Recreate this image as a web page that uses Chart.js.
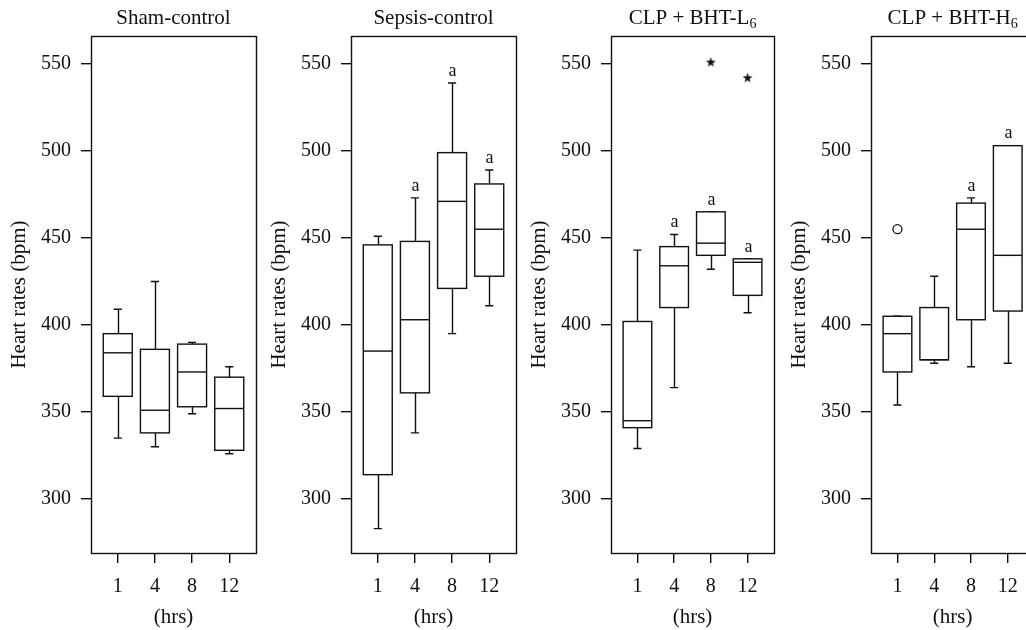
<!DOCTYPE html>
<html>
<head>
<meta charset="utf-8">
<script src="https://cdn.jsdelivr.net/npm/chart.js@4/dist/chart.umd.min.js"></script>
<style>
  html, body { margin: 0; padding: 0; background: #fff; overflow: hidden; width: 1026px; height: 630px; }
  .panel { position: absolute; top: 0; width: 260px; height: 630px; }
</style>
</head>
<body>
<div class="panel" style="left:0px"><canvas id="chart0" width="260" height="630"></canvas></div>
<div class="panel" style="left:260px"><canvas id="chart1" width="260" height="630"></canvas></div>
<div class="panel" style="left:520px"><canvas id="chart2" width="260" height="630"></canvas></div>
<div class="panel" style="left:780px"><canvas id="chart3" width="260" height="630"></canvas></div>
<script>
// heart rate box plots, 4 groups x 4 time points
var hours = ['1', '4', '8', '12'];
var titles = ['Sham-control', 'Sepsis-control', 'CLP + BHT-L', 'CLP + BHT-H'];
var titleSubs = ['', '', '6', '6'];
var yTicks = [300, 350, 400, 450, 500, 550];

// each box: [lower whisker, Q1, median, Q3, upper whisker]
var shamBoxes   = [[335, 359, 384, 395, 409], [330, 338, 351, 386, 425], [349, 353, 373, 389, 390], [326, 328, 352, 370, 376]];
var sepsisBoxes = [[283, 314, 385, 446, 451], [338, 361, 403, 448, 473], [395, 421, 471, 499, 539], [411, 428, 455, 481, 489]];
var lowBoxes    = [[329, 341, 345, 402, 443], [364, 410, 434, 445, 452], [432, 440, 447, 465, 465], [407, 417, 436, 438, 438]];
var highBoxes   = [[354, 373, 395, 405, 405], [378, 380, 380, 410, 428], [376, 403, 455, 470, 473], [378, 408, 440, 503, 503]];

// extreme values (star) and outliers (circle): [time index 1..4, value]
var shamStars = [], sepsisStars = [], lowStars = [[3, 551], [4, 542]], highStars = [];
var shamCircles = [], sepsisCircles = [], lowCircles = [], highCircles = [[1, 455]];

// "a" = significant vs sham
var shamSig   = [0, 0, 0, 0];
var sepsisSig = [0, 1, 1, 1];
var lowSig    = [0, 1, 1, 1];
var highSig   = [0, 0, 1, 1];

var allBoxes = [shamBoxes, sepsisBoxes, lowBoxes, highBoxes];
var allStars = [shamStars, sepsisStars, lowStars, highStars];
var allCircles = [shamCircles, sepsisCircles, lowCircles, highCircles];
var allSig = [shamSig, sepsisSig, lowSig, highSig];

var INK = '#111';
var FONT = "'Liberation Serif', 'DejaVu Serif', serif";
Chart.defaults.font.family = FONT;
Chart.defaults.font.size = 20;
Chart.defaults.color = INK;

// small filled star for extreme points
var starImg = document.createElement('canvas');
starImg.width = 11; starImg.height = 11;
(function () {
    var c = starImg.getContext('2d');
    c.fillStyle = INK;
    c.beginPath();
    for (var k = 0; k < 10; k++) {
        var r = (k % 2 == 0) ? 5.2 : 2.1;
        var a = -Math.PI / 2 + k * Math.PI / 5;
        var px = 5.5 + r * Math.cos(a), py = 5.8 + r * Math.sin(a);
        if (k == 0) c.moveTo(px, py); else c.lineTo(px, py);
    }
    c.closePath();
    c.fill();
})();

var boxPlugin = {
    id: 'boxes',
    beforeDatasetsDraw: function (chart) {
        var ctx = chart.ctx, xs = chart.scales.x, ys = chart.scales.y;
        var boxes = chart.options.plugins.boxes.data;
        var sig = chart.options.plugins.boxes.sig;
        ctx.save();
        ctx.strokeStyle = INK;
        ctx.lineWidth = 1.4;
        for (var i = 0; i < boxes.length; i++) {
            var b = boxes[i];
            var xc = Math.round(xs.getPixelForValue(i + 1)) + 0.5;
            var x0 = xs.getPixelForValue(i + 1 - 0.39), x1 = xs.getPixelForValue(i + 1 + 0.39);
            var c0 = xs.getPixelForValue(i + 1 - 0.11), c1 = xs.getPixelForValue(i + 1 + 0.11);
            var yLo = ys.getPixelForValue(b[0]), yQ1 = ys.getPixelForValue(b[1]);
            var yMed = ys.getPixelForValue(b[2]), yQ3 = ys.getPixelForValue(b[3]);
            var yHi = ys.getPixelForValue(b[4]);
            ctx.beginPath();
            ctx.moveTo(xc, yQ1); ctx.lineTo(xc, yLo);
            ctx.moveTo(c0, yLo); ctx.lineTo(c1, yLo);
            ctx.moveTo(xc, yQ3); ctx.lineTo(xc, yHi);
            ctx.moveTo(c0, yHi); ctx.lineTo(c1, yHi);
            ctx.stroke();
            ctx.fillStyle = '#fff';
            ctx.fillRect(x0, yQ3, x1 - x0, yQ1 - yQ3);
            ctx.strokeRect(x0, yQ3, x1 - x0, yQ1 - yQ3);
            ctx.beginPath();
            ctx.moveTo(x0, yMed); ctx.lineTo(x1, yMed);
            ctx.stroke();
            if (sig[i]) {
                ctx.fillStyle = INK;
                ctx.font = "18px " + FONT;
                ctx.textAlign = 'center';
                ctx.textBaseline = 'middle';
                ctx.fillText('a', xc, yHi - 12);
            }
        }
        ctx.restore();
    },
    afterDraw: function (chart) {
        var a = chart.chartArea, ctx = chart.ctx;
        ctx.save();
        ctx.strokeStyle = INK;
        ctx.lineWidth = 1.4;
        ctx.strokeRect(Math.round(a.left) + 0.5, Math.round(a.top) + 0.5, Math.round(a.right - a.left), Math.round(a.bottom - a.top));
        // panel title centred over the plot box, with optional subscript
        var t = chart.options.plugins.boxes.title, sub = chart.options.plugins.boxes.sub;
        ctx.fillStyle = INK;
        ctx.textBaseline = 'alphabetic';
        ctx.textAlign = 'left';
        ctx.font = "21px " + FONT;
        var w = ctx.measureText(t).width;
        ctx.font = "14px " + FONT;
        var ws = sub ? ctx.measureText(sub).width : 0;
        var x = (a.left + a.right) / 2 - (w + ws) / 2;
        ctx.font = "21px " + FONT;
        ctx.fillText(t, x, 24);
        if (sub) {
            ctx.font = "14px " + FONT;
            ctx.fillText(sub, x + w, 28);
        }
        ctx.restore();
    }
};

var charts = [];
for (var p = 0; p < 4; p++) {
    var stars = allStars[p].map(function (s) { return { x: s[0], y: s[1] }; });
    var circles = allCircles[p].map(function (s) { return { x: s[0], y: s[1] }; });
    charts.push(new Chart(document.getElementById('chart' + p), {
        type: 'scatter',
        data: {
            datasets: [{
                label: 'extreme',
                data: stars,
                pointStyle: starImg,
                pointRadius: 5
            }, {
                label: 'outlier',
                data: circles,
                pointStyle: 'circle',
                pointRadius: 4.5,
                borderColor: INK,
                backgroundColor: '#fff',
                borderWidth: 1.3
            }]
        },
        options: {
            responsive: false,
            animation: false,
            layout: { padding: { top: 36, right: 4, bottom: 0, left: 0 } },
            plugins: {
                legend: { display: false },
                tooltip: { enabled: false },
                title: { display: false },
                boxes: { data: allBoxes[p], sig: allSig[p], title: titles[p], sub: titleSubs[p] }
            },
            scales: {
                x: {
                    type: 'linear',
                    min: 0.28,
                    max: 4.72,
                    afterBuildTicks: function (s) { s.ticks = hours.map(function (h, i) { return { value: i + 1 }; }); },
                    afterFit: function (s) { s.height = 77; },
                    ticks: {
                        padding: 12,
                        maxRotation: 0,
                        callback: function (v) { return hours[v - 1]; }
                    },
                    grid: { display: true, drawOnChartArea: false, drawTicks: true, tickLength: 10, color: INK, lineWidth: 1.4 },
                    border: { display: false },
                    title: { display: true, text: '(hrs)', font: { size: 21 }, padding: { top: 0, bottom: 0 } }
                },
                y: {
                    min: 269,
                    max: 566,
                    afterBuildTicks: function (s) { s.ticks = yTicks.map(function (v) { return { value: v }; }); },
                    afterFit: function (s) { s.width = 91; },
                    ticks: { padding: 10 },
                    grid: { display: true, drawOnChartArea: false, drawTicks: true, tickLength: 10, color: INK, lineWidth: 1.4 },
                    border: { display: false },
                    title: { display: true, text: 'Heart rates (bpm)', font: { size: 21 }, padding: { top: 7, bottom: 0 } }
                }
            }
        },
        plugins: [boxPlugin]
    }));
}
</script>
</body>
</html>
